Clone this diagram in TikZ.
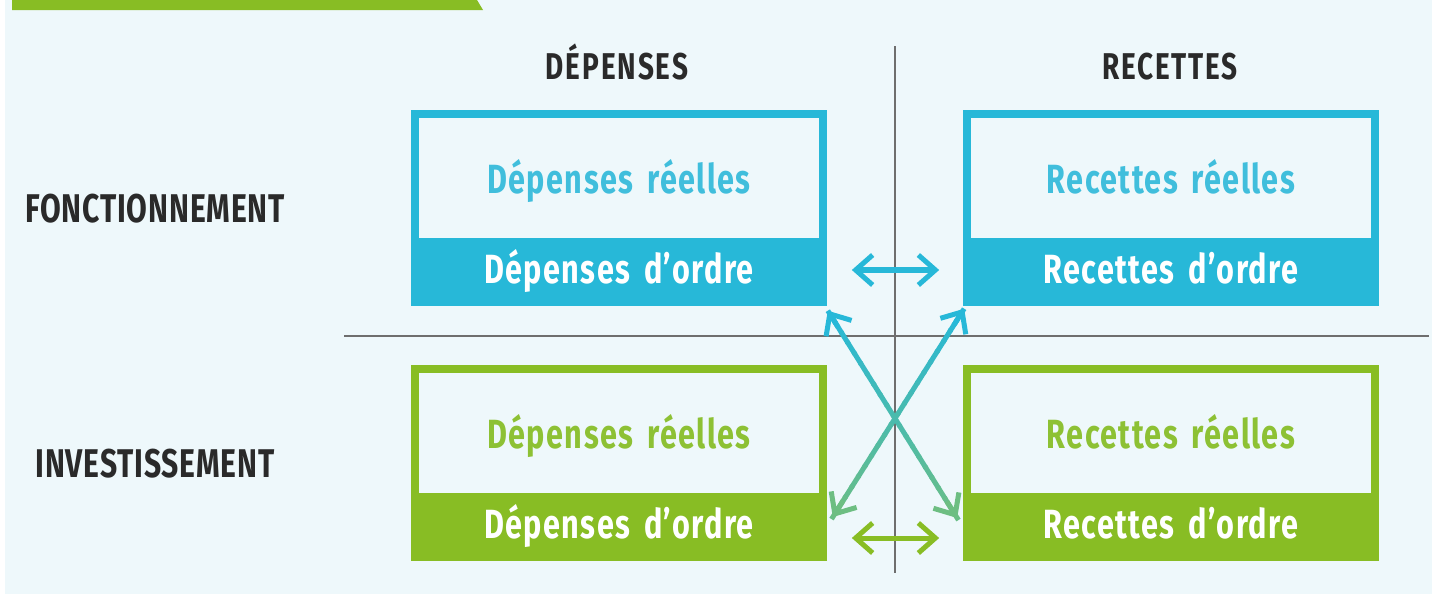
\documentclass[tikz,border=0pt]{standalone}
\usepackage{fontspec}
\setmainfont{Fira Sans}[FakeStretch=0.75]
\newfontfamily\boitefam{Fira Sans}[FakeStretch=0.75, LetterSpace=3.5, WordSpace=1.6]
\usetikzlibrary{positioning,arrows.meta,calc}
\definecolor{bleu}{HTML}{27B8D8}
\definecolor{bleuclair}{HTML}{40BEDC}
\definecolor{vert}{HTML}{88BD24}
\definecolor{vertclair}{HTML}{8DC134}
\definecolor{vertx}{HTML}{6DBE82}
\definecolor{fond}{HTML}{EEF8FB}
\definecolor{texte}{HTML}{2A2A2A}
\definecolor{trait}{HTML}{6E6E6E}
\newcommand\boitefont{\boitefam\bfseries\fontsize{11.6}{13}\selectfont}
\tikzset{
x=0.01cm,
y=-0.01cm,
>={Straight Barb[length=0.17cm,width=0.3cm]},
}

\begin{document}
\begin{tikzpicture}
        [cadre/.style={draw=#1, line width=0.08cm, fill=fond, minimum width=4.08cm, minimum height=1.88cm, inner sep=0pt},
        reel/.style={anchor=base, text=#1, font=\boitefont},
        ordre/.style={fill=#1, text=white, minimum width=4.16cm, minimum height=0.68cm, inner sep=0pt,
            text height=0.3cm, text depth=0.08cm, font=\boitefont},
        entete/.style={anchor=base, text=texte, font=\fontsize{10.6}{12}\selectfont\bfseries\addfontfeatures{LetterSpace=5}},
        ligne/.style={anchor=base, text=texte, font=\fontsize{11.4}{13}\selectfont\bfseries\addfontfeatures{LetterSpace=2}},
        fleche/.style={<->, line width=0.05cm, color=#1},
        ]
        \useasboundingbox (0,0) rectangle (1432,594);
        \fill[fond] (5,0) rectangle (1432,594);
        \fill[vert] (12,0) -- (477,0) -- (483,10) -- (12,10) -- cycle;

        % axes
        \draw[trait, line width=0.02cm] (344,336) -- (1429,336);
        \draw[trait, line width=0.02cm] (895,46) -- (895,573);

        % titres
        \node [entete] (dep) at (617,79) {DÉPENSES};
        \node [entete] (rec) at (1170,79) {RECETTES};
        \node [ligne] (fonc) at (155,222) {FONCTIONNEMENT};
        \node [ligne] (inv) at (155,477) {INVESTISSEMENT};

        % fonctionnement
        \node [cadre=bleu] (fd) at (619,208) {};
        \node [reel=bleuclair] (fdr) at (619,193) {Dépenses réelles};
        \node [ordre=bleu] (fdo) at (619,272) {Dépenses d’ordre};

        \node [cadre=bleu] (fr) at (1171,208) {};
        \node [reel=bleuclair] (frr) at (1171,193) {Recettes réelles};
        \node [ordre=bleu] (fro) at (1171,272) {Recettes d’ordre};

        % investissement
        \node [cadre=vert] (id) at (619,463) {};
        \node [reel=vertclair] (idr) at (619,448) {Dépenses réelles};
        \node [ordre=vert] (ido) at (619,527) {Dépenses d’ordre};

        \node [cadre=vert] (ir) at (1171,463) {};
        \node [reel=vertclair] (irr) at (1171,448) {Recettes réelles};
        \node [ordre=vert] (iro) at (1171,527) {Recettes d’ordre};

        % fleches
        \draw[fleche=bleu, shorten <=0.24cm, shorten >=0.23cm] ($(fdo.east)+(0,-2)$) -- ($(fro.west)+(0,-2)$);
        \draw[fleche=vert, shorten <=0.24cm, shorten >=0.23cm] ($(ido.east)+(0,11)$) -- ($(iro.west)+(0,11)$);

        \coordinate (a1) at ($(fdo.south east)+(0,4)$);
        \coordinate (b1) at ($(iro.west)+(-5,-9)$);
        \coordinate (a2) at ($(fro.south west)+(2,2)$);
        \coordinate (b2) at ($(ido.east)+(5,-10)$);
        \foreach \k in {0,...,19} {
            \pgfmathsetmacro\p{100-5*\k}
            \pgfmathsetmacro\s{\k/20}
            \pgfmathsetmacro\e{(\k+1.2)/20}
            \draw[line width=0.05cm, bleu!\p!vertx] ($(a1)!\s!(b1)$) -- ($(a1)!\e!(b1)$);
            \draw[line width=0.05cm, bleu!\p!vertx] ($(a2)!\s!(b2)$) -- ($(a2)!\e!(b2)$);
        }
        \draw[->, line width=0.05cm, bleu] ($(a1)!0.08!(b1)$) -- (a1);
        \draw[->, line width=0.05cm, bleu] ($(a2)!0.08!(b2)$) -- (a2);
        \draw[->, line width=0.05cm, vertx] ($(a1)!0.92!(b1)$) -- (b1);
        \draw[->, line width=0.05cm, vertx] ($(a2)!0.92!(b2)$) -- (b2);
    \end{tikzpicture}
\end{document}
